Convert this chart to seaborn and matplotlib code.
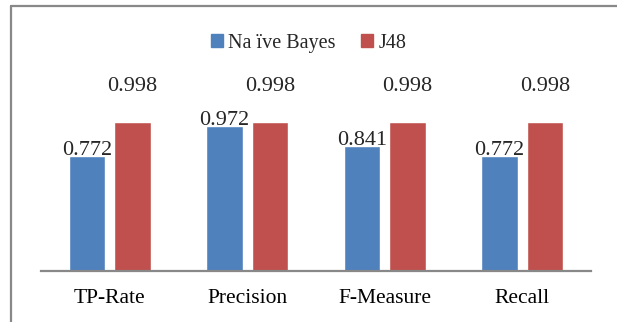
import pandas as pd
import matplotlib.pyplot as plt
import seaborn as sns
from matplotlib.lines import Line2D

# Chart data
metrics = ["TP-Rate", "Precision", "F-Measure", "Recall"]
naive_bayes = [0.772, 0.972, 0.841, 0.772]
j48 = [0.998, 0.998, 0.998, 0.998]
models = ["Na ïve Bayes", "J48"]
colors = ["#4F81BD", "#C0504D"]

df = pd.DataFrame({
    "metric": metrics * 2,
    "value": naive_bayes + j48,
    "model": [models[0]] * len(metrics) + [models[1]] * len(metrics),
})

sns.set_style("white")
plt.rcParams["font.family"] = ["Liberation Serif", "DejaVu Serif"]

fig = plt.figure(figsize=(6.17, 3.22), dpi=100)
ax = fig.add_axes([41 / 617, 51 / 322, 550 / 617, 179 / 322])

sns.barplot(data=df, x="metric", y="value", hue="model", palette=colors,
            saturation=1, width=0.66, gap=0.2, ax=ax)

ax.set_ylim(0, 1.2)
ax.set_xlim(-0.5, len(metrics) - 0.5)
ax.set_xlabel("")
ax.set_ylabel("")
ax.set_yticks([])
ax.tick_params(axis="x", length=0, labelsize=15.5, pad=13, colors="black")
for side in ["top", "right", "left"]:
    ax.spines[side].set_visible(False)
ax.spines["bottom"].set_color("#888888")
ax.spines["bottom"].set_linewidth(1.6)

# value labels: blue just above bar top, red on a common line above
for bar, v in zip(ax.containers[0], naive_bayes):
    ax.text(bar.get_x() + bar.get_width() / 2, v + 0.035, f"{v:.3f}",
            ha="center", va="center", fontsize=16, clip_on=False)
for bar, v in zip(ax.containers[1], j48):
    ax.text(bar.get_x() + bar.get_width() / 2, 1.24, f"{v:.3f}",
            ha="center", va="center", fontsize=16, clip_on=False)

handles = [plt.Rectangle((0, 0), 1, 1, color=c) for c in colors]
ax.legend(handles, models, loc="center", bbox_to_anchor=(0.5, 0.865),
          bbox_transform=fig.transFigure, ncol=2, frameon=False,
          fontsize=14.5, handlelength=0.6, handleheight=0.6,
          handletextpad=0.25, columnspacing=1.3)

# chart frame (top and left edges only)
fig.add_artist(Line2D([11 / 617, 1.0], [1 - 6 / 322, 1 - 6 / 322],
                      color="#888888", lw=1.6, transform=fig.transFigure))
fig.add_artist(Line2D([11 / 617, 11 / 617], [0, 1 - 6 / 322],
                      color="#888888", lw=1.6, transform=fig.transFigure))

fig.savefig("out.png", dpi=100)
